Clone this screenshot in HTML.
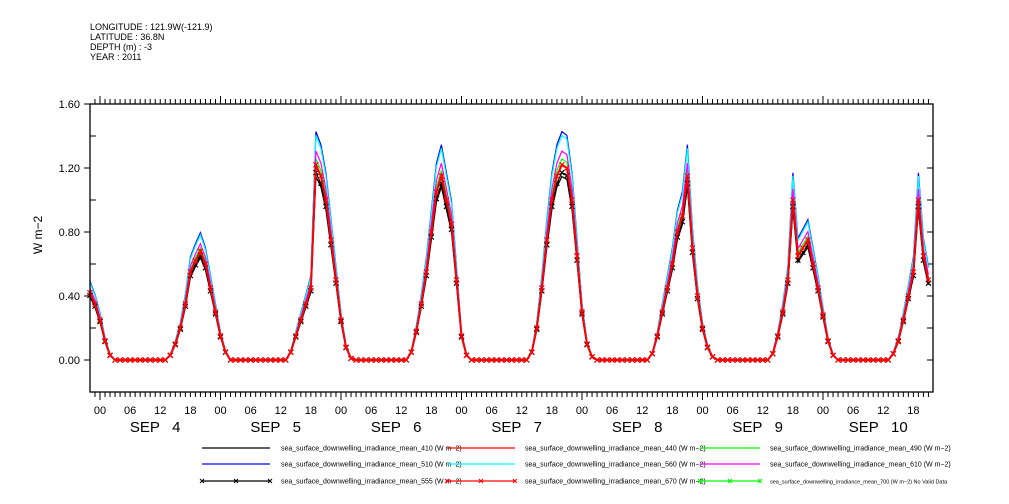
<!DOCTYPE html>
<html><head><meta charset="utf-8"><style>
body{margin:0;background:#fff;}
svg{display:block;font-family:"Liberation Sans",sans-serif;}
</style></head><body>
<svg id="chart" width="1009" height="504" viewBox="0 0 1009 504" xmlns="http://www.w3.org/2000/svg">
<g font-size="9" fill="#000">
<text x="90" y="30">LONGITUDE : 121.9W(-121.9)</text>
<text x="90" y="40">LATITUDE : 36.8N</text>
<text x="90" y="50">DEPTH (m) : -3</text>
<text x="90" y="60">YEAR : 2011</text>
</g>
<text x="42" y="235" font-size="12" text-anchor="middle" transform="rotate(-90 42 235)">W m−2</text>
<g id="axes"></g>
<g id="series"></g>
<rect x="90" y="104" width="843" height="288" fill="none" stroke="#000" stroke-width="1.3"/>
<g id="legend" font-size="7"></g>
</svg>
<script>
// hourly values of the reference (670 nm) series, starting SEP 3 22:00
const startHour = -2;
const baseValues = [0.42,0.35,
0.25,0.12,0.03,0,0,0,0,0,0,0,0,0,0,0,0.03,0.1,0.2,0.35,0.55,0.62,0.68,0.6,0.45,0.3,
0.15,0.05,0,0,0,0,0,0,0,0,0,0,0,0,0.05,0.15,0.25,0.35,0.45,1.22,1.15,1.0,0.75,0.5,
0.25,0.08,0.01,0,0,0,0,0,0,0,0,0,0,0,0.05,0.18,0.35,0.55,0.8,1.05,1.15,1.0,0.85,0.5,
0.15,0.03,0,0,0,0,0,0,0,0,0,0,0,0,0.05,0.2,0.45,0.75,1.0,1.15,1.22,1.2,1.0,0.65,
0.3,0.1,0.02,0,0,0,0,0,0,0,0,0,0,0,0.04,0.15,0.3,0.45,0.6,0.8,0.9,1.15,0.7,0.4,
0.2,0.08,0.02,0,0,0,0,0,0,0,0,0,0,0,0.04,0.15,0.3,0.5,1.0,0.65,0.7,0.75,0.6,0.45,
0.28,0.12,0.03,0,0,0,0,0,0,0,0,0,0,0,0.04,0.12,0.25,0.4,0.55,1.0,0.65,0.5];
const seriesNames = ["410","440","490","510","560","610","555","670"];
const seriesScales = [0.94,1.0,1.03,1.17,1.15,1.07,0.96,1.0];
const seriesColors = ["#000","#f00","#0f0","#00f","#0ff","#f0f","#000","#f00"];
const seriesMarkers = [false,false,false,false,false,false,true,true];
const yTicks = [0,0.4,0.8,1.2,1.6];
const yTickLabels = ["0.00","0.40","0.80","1.20","1.60"];
const dayLabels = ["SEP   4","SEP   5","SEP   6","SEP   7","SEP   8","SEP   9","SEP   10"];
const hourLabels = ["00","06","12","18"];

const NS="http://www.w3.org/2000/svg";
const X0=100, PXH=120.5/24, Y0=360, PXU=160;
const xs=h=>X0+h*PXH;
const ys=v=>Y0-v*PXU;
function mk(tag,attrs,parent){const e=document.createElementNS(NS,tag);for(const k in attrs)e.setAttribute(k,attrs[k]);parent.appendChild(e);return e;}
const axes=document.getElementById('axes');
yTicks.forEach((v,i)=>{
  const t=mk('line',{x1:84,x2:90,y1:ys(v),y2:ys(v),stroke:'#000'},axes);
  
  
  const r=mk('line',{x1:927,x2:933,y1:ys(v),y2:ys(v),stroke:'#000'},axes);
  
  
  const l=mk('text',{x:80,y:ys(v)+4,'font-size':11,'text-anchor':'end'},axes);
  l.textContent=yTickLabels[i];
  
  
  if(i<yTicks.length-1){const mv=v+0.2;
    const m=mk('line',{x1:90,x2:96,y1:ys(mv),y2:ys(mv),stroke:'#000'},axes);
    
    
    const m2=mk('line',{x1:927,x2:933,y1:ys(mv),y2:ys(mv),stroke:'#000'},axes);
    
    }
});
for(let h=-2;h<=166;h++){
  const x=xs(h); if(x<90||x>933)continue;
  const major=((h%24)+24)%24===0;
  const b=mk('line',{x1:x,x2:x,y1:392,y2:major?400:397,stroke:'#000'},axes);
  
  
  const t=mk('line',{x1:x,x2:x,y1:104,y2:major?96:99,stroke:'#000'},axes);
  
  
  if(h%6===0){
    const l=mk('text',{x:x,y:414,'font-size':11,'text-anchor':'middle'},axes);
    l.textContent=hourLabels[((h%24)+24)%24/6];
    
    
  }
}
dayLabels.forEach((d,i)=>{
  const l=mk('text',{x:xs(i*24+11),y:432,'font-size':15,'text-anchor':'middle'},axes);
  l.setAttribute('style','white-space:pre');
  l.textContent=d;
  
  
});
const sg=document.getElementById('series');
const order=[0,3,4,2,5,1,6,7];
order.forEach(si=>{
  const pts=baseValues.map((v,i)=>xs(startHour+i).toFixed(1)+','+ys(v*seriesScales[si]).toFixed(1)).join(' ');
  const p=mk('polyline',{points:pts,fill:'none',stroke:seriesColors[si],'stroke-width':si===7?2:1.2},sg);
  
  
  if(seriesMarkers[si]){
    baseValues.forEach((v,i)=>{
      const x=xs(startHour+i),y=ys(v*seriesScales[si]);
      const m=mk('path',{d:`M${x-2.5},${y-2.5}L${x+2.5},${y+2.5}M${x-2.5},${y+2.5}L${x+2.5},${y-2.5}`,stroke:seriesColors[si],'stroke-width':1.2},sg);
      
      
    });
  }
});
const lg=document.getElementById('legend');
const legendNames=["410","440","490","510","560","610","555","670","700"];
const legendColors=["#000","#f00","#0f0","#00f","#0ff","#f0f","#000","#f00","#0f0"];
const colX=[[202,270,281],[447,515,525],[700,760,770]];
const rowY=[448,464,481];
legendNames.forEach((nm,i)=>{
  const c=colX[i%3], y=rowY[Math.floor(i/3)];
  const l=mk('line',{x1:c[0],x2:c[1],y1:y,y2:y,stroke:legendColors[i],'stroke-width':1.2},lg);
  
  
  if(i>=6){[c[0],(c[0]+c[1])/2,c[1]].forEach(x=>{
    const m=mk('path',{d:`M${x-2},${y-2}L${x+2},${y+2}M${x-2},${y+2}L${x+2},${y-2}`,stroke:legendColors[i]},lg);
    
    });}
  const t=mk('text',{x:c[2],y:y+2.5,'font-size':i===8?5.5:7},lg);
  t.textContent='sea_surface_downwelling_irradiance_mean_'+nm+' (W m−2)'+(i===8?' No Valid Data':'');
  
  
});
</script>
</body></html>
